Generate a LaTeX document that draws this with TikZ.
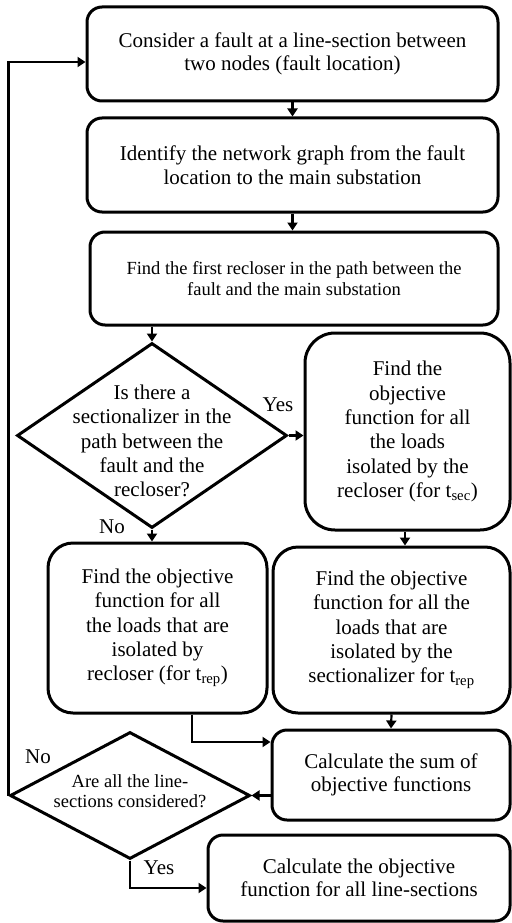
\documentclass[tikz,border=0pt]{standalone}
\usepackage{fontspec}
\setmainfont{Liberation Serif}
\usetikzlibrary{arrows.meta,shapes.geometric}
\begin{document}
\begin{tikzpicture}[x=1pt,y=-1pt,
  box/.style={draw,line width=3pt,rounded corners=#1,inner sep=0pt,align=center,
    font=\fontsize{21}{23.5}\selectfont},
  box/.default=15pt,
  smallbox/.style={box,font=\fontsize{18.5}{21}\selectfont},
  dia/.style={draw,diamond,line width=3pt,inner sep=0pt},
  dtext/.style={inner sep=0pt,align=center,font=\fontsize{21}{24.3}\selectfont},
  lbl/.style={inner sep=0pt,font=\fontsize{21}{24}\selectfont},
  arr/.style={line width=2.2pt,-{Triangle[length=8pt,width=10pt]}},
  multi/.style={font=\fontsize{21}{24.3}\selectfont}
]
\useasboundingbox (0,0) rectangle (511,923);

\node[box,minimum width=411pt,minimum height=94pt] (b1) at (292.5,54)
  {Consider a fault at a line-section between\\two nodes (fault location)};
\node[box,minimum width=411pt,minimum height=94pt] (b2) at (292.5,165)
  {Identify the network graph from the fault\\location to the main substation};
\node[smallbox,minimum width=408pt,minimum height=93pt] (b3) at (294,278.5)
  {Find the first recloser in the path between the\\fault and the main substation};

\node[dia,minimum width=270pt,minimum height=185pt] (d1) at (152,435.5) {};
\node[dtext] (t1) at (152,441)
  {Is there a\\sectionalizer in the\\path between the\\fault and the\\recloser?};

\node[box=30pt,multi,minimum width=205pt,minimum height=197pt] (b4) at (407.5,431.5)
  {Find the\\objective\\function for all\\the loads\\isolated by the\\recloser (for t\textsubscript{sec})};

\node[box=25pt,multi,minimum width=219pt,minimum height=170pt] (b5) at (157.5,628)
  {Find the objective\\function for all\\the loads that are\\isolated by\\recloser (for t\textsubscript{rep})};
\node[box=25pt,multi,minimum width=237pt,minimum height=166pt] (b6) at (391.5,630)
  {Find the objective\\function for all the\\loads that are\\isolated by the\\sectionalizer for t\textsubscript{rep}};

\node[box,minimum width=238pt,minimum height=90pt] (b7) at (391,775)
  {Calculate the sum of\\objective functions};

\node[dia,minimum width=240pt,minimum height=127pt] (d2) at (130,795.5) {};
\node[dtext,font=\fontsize{18.5}{20.5}\selectfont] (t2) at (130,791)
  {Are all the line-\\sections considered?};

\node[box,minimum width=302pt,minimum height=86pt] (b8) at (359,878)
  {Calculate the objective\\function for all line-sections};

\node[lbl] (yes1) at (278,405) {Yes};
\node[lbl] (no1) at (112,527) {No};
\node[lbl] (no2) at (38,757) {No};
\node[lbl] (yes2) at (159,868) {Yes};

\draw[arr] (b1.south) -- (b2.north);
\draw[arr] (b2.south) -- (b3.north -| b2.south);
\draw[arr] (d1.north |- b3.south) -- (d1.north);
\draw[arr] (d1.east) -- (d1.east -| b4.west);
\draw[arr] (d1.south) -- (d1.south |- b5.north);
\draw[arr] ([xshift=-2.5pt]b4.south) -- ([xshift=-2.5pt]b4.south |- b6.north);
\draw[arr] (b6.south) -- (b7.north);
\draw[arr] ([xshift=34.5pt]b5.south) |- ([yshift=33pt]b7.west);
\draw[arr] (b7.west |- d2.east) -- (d2.east);
\draw[arr] (d2.west) |- ([yshift=-8pt]b1.west);
\draw[arr] (d2.south) |- ([yshift=-10pt]b8.west);
\end{tikzpicture}
\end{document}
